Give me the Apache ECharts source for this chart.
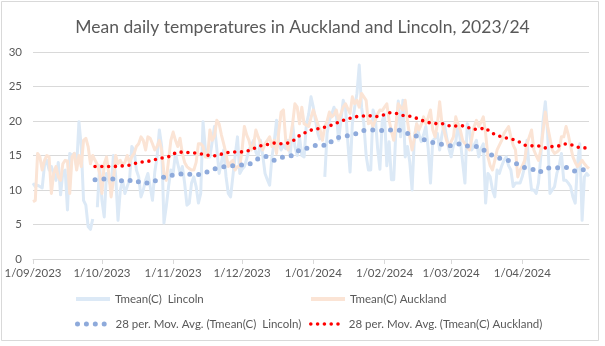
<!DOCTYPE html>
<html><head><meta charset="utf-8">
<script src="https://cdn.jsdelivr.net/npm/echarts@6/dist/echarts.min.js"></script>
<style>html,body{margin:0;padding:0;background:#fff}#c{width:605px;height:346px}</style>
</head><body><div id="c"></div>
<script>
// ---- data ----
const titleText = 'Mean daily temperatures in Auckland and Lincoln, 2023/24';
const startDate = '2023-09-01';
const dayCount = 243; // 1 Sep 2023 .. 30 Apr 2024
const seriesNames = ['Tmean(C)  Lincoln', 'Tmean(C) Auckland',
  '28 per. Mov. Avg. (Tmean(C)  Lincoln)', '28 per. Mov. Avg. (Tmean(C) Auckland)'];
const yTicks = [0, 5, 10, 15, 20, 25, 30];

const lincoln = [
  11, 10.5, 10.7, 10.5, 10.3, 13.6, 14.3, 12.9, 13.4, 12.4,
  11.4, 14, 9.3, 12.6, 12.9, 7.1, 15.3, 15, 15.3, 13.4,
  19.9, 16.3, 8.5, 7.8, 4.7, 4.3, 5.8, null, 7.5, 13.5,
  8.5, 6.1, 12.4, 11.4, 10.5, 15, 12, 5.6, 10, 11.4,
  9.5, 10.5, 11.4, 16.3, 15.8, 12.9, 11.9, 9, 10, 11.4,
  12.4, 10.5, 8.5, 12.6, 14.8, 18.7, 16.3, 5.2, 7.6, 10.5,
  12.9, 12.4, 15.3, 13.8, 12.4, 13.4, 11, 7.8, 8.1, 11,
  11.9, 10.5, 8.1, 9.5, 19.9, 16, 14.8, 14.8, 17, 19.2,
  16, 12.4, 14, 15.8, 12, 9.5, 9, 12, 15, 17.7,
  12.4, 13, 13.4, 14.5, 15.8, 16.5, 17.2, 15.5, 14.8, 17.2,
  15, 12.4, 11.5, 10.7, 14.8, 17, 20.1, 16.7, 15.8, 16.5,
  16, 17.2, 15, 19.6, 16.3, 15, 17.7, 15, 14.8, 19.6,
  21, 23.5, 22, 20, 18.2, 17.2, null, 11.9, 18.2, 20.1,
  21, 22, 21.1, 17.2, 20, 23, 22, 17, 12.6, 19.6,
  22, 24, 28.1, 22, 19.6, 15, 12.9, 12.9, 21.6, 20.5,
  16, 13, 20, 21, 13.5, 17, 11.5, 11.5, 19, 22.9,
  17.7, 23, 14.8, 16.3, 14, 10, 17.7, 19.6, 18, 17,
  18, 19.2, 16, 11, 17.2, 17.5, 18.2, 15.8, 18, 19.6,
  17.7, 16, 14.8, 16.5, 17, 19.6, 17.2, 14, 11, 19.6,
  18.7, 15.8, 16.5, 17.2, 14.8, 16, 16.7, 8.1, 12.4, 11.9,
  10, 9, 12.9, 12.4, 13.5, 14.3, 14.8, 13.5, 12.9, 10.5,
  11, 11, 11, 12, 13.4, 17.2, 13, 10, 10, 9.5,
  11, 14.8, 20, 22.8, 18.2, 9.5, 10, 10.5, 12.4, 13.5,
  15.3, 11.4, 11.4, 11, 10.5, 9, 8.1, 13.8, 16.7, 5.6,
  11.9, 12.4, 12
];
const auckland = [
  8.3, 8.5, 15.3, 14.8, 12.9, 14.3, 15, 14.8, 9.5, 12.4,
  13.4, 11.9, 11.4, 13.8, 14.3, 14.2, 9.5, 14.8, 15.3, 12.9,
  15, 13.4, 17.2, 17.5, 16.3, 13.8, 15, 14.3, 13.7, 12.4,
  9.5, 13.8, 14.8, 12.4, 9, 11.4, 15, 13.8, 14.3, 13.6,
  14, 15, 14, 14.8, 15.3, 16.3, 16.7, 17.7, 17.2, 15.8,
  17.7, 17.5, 16.7, 15.8, 16.3, 17.2, 15.8, 12.4, 11.4, 14.3,
  17.2, 18.4, 17.2, 16.3, 17.5, 15.3, 14, 13.4, 13.1, 12.9,
  12.9, 14, 16.7, 16.7, 16.3, 14.8, 14.8, 18.7, 17.2, 17.8,
  20.1, 19.6, 18, 16.7, 15.3, 13.4, 14, 14.3, 12.9, 13.4,
  13.4, 15.8, 19.2, 18, 17.2, 15.8, 16.5, 18.7, 17.7, 16.8,
  15.8, 16.7, 17.2, 17.7, 16.3, 17.2, 15.3, 18.5, 21.3, 21.6,
  17.2, 15.8, 17.5, 19.6, 22.5, 22, 19.6, 22, 19.6, 19.4,
  19.2, 20.5, 21.6, 20.6, 19.5, 18.7, 17.2, 19.2, 20, 21.3,
  20.6, 20.9, 21.6, 20.1, 21, 22, 22.5, 21.8, 21.1, 23.5,
  22.5, 23, 22, 24, 23.5, 23, 19.6, 20, 19.2, 20.1,
  21, 21.6, 21.5, 22, 22.5, 20.1, 18.5, 17.2, 19.6, 22.5,
  22, 21.6, 23, 20, 17.7, 15.8, 17.5, 19.6, 18.7, 19.5,
  20.6, 19.6, 20.5, 21.6, 18.7, 17.7, 19.5, 22.8, 19.6, 18.5,
  17.2, 16.3, 17, 17.7, 20.6, 19.5, 18.7, 17.2, 16.7, 16.2,
  15.8, 17.5, 19.2, 20.1, 19.2, 19.8, 20.6, 18.2, 14.8, 13.5,
  12.9, 14.3, 15.8, 16.5, 17.2, 18.2, 18.7, 19.2, 17.7, 16.5,
  15.8, 11.9, 12.9, 13.5, 14.3, 16.7, 17.7, 18.7, 15.8, 15,
  14.3, 15.8, 18.5, 21.3, 19.2, 17.5, 15.8, 15.3, 15.5, 15.8,
  17.7, 17.7, 19.2, 18, 16.3, 14.8, 14, 13.4, 13.8, 14.3,
  13.8, 13.4, 13.1
];
// 28-period moving-average trendlines (day offset from 1 Sep 2023, value)
const lincolnMaDay = [27, 32, 36, 40, 44, 47, 51, 55, 58, 62, 66, 70, 74, 78, 82, 86, 90, 94, 97, 101,
  105, 108, 113, 116, 120, 124, 128, 131, 135, 139, 143, 147, 151, 155, 159, 163, 167, 170, 174, 178,
  182, 186, 190, 194, 198, 201, 205, 209, 213, 217, 220, 224, 228, 232, 236, 239, 242];
const lincolnMa = [11.5, 11.6, 11.6, 11.2, 11.5, 11, 11, 11.6, 12, 12.2, 12.4, 12.2, 12.3, 13, 13.3, 13.5, 13.6, 13.7, 14.4, 14.9,
  14.3, 14.7, 15, 15.8, 16.1, 16.6, 16.4, 17.4, 17.8, 17.9, 18.6, 18.7, 18.6, 18.7, 18.7, 18.2, 17.8, 17.3, 16.9, 16.6,
  16.4, 16.7, 16.3, 16.3, 15.4, 14.8, 14.4, 14.1, 13.3, 13.1, 12.5, 13.2, 13.2, 13.3, 12.7, 12.9, 13];
const aucklandMaDay = [27, 30, 33, 35, 39, 42, 45, 48, 51, 54, 57, 60, 62, 65, 69, 72, 75, 78, 81, 84,
  87, 90, 93, 96, 99, 102, 105, 108, 111, 114, 116, 119, 122, 125, 128, 131, 134, 137, 140, 143,
  146, 149, 152, 155, 158, 161, 164, 167, 170, 173, 176, 179, 182, 185, 188, 191, 194, 197, 199, 202,
  205, 208, 211, 214, 217, 220, 223, 226, 229, 232, 235, 238, 242];
const aucklandMa = [13.4, 13.4, 13.4, 13.4, 13.5, 13.6, 13.9, 14.1, 14.2, 14.5, 14.7, 14.9, 15.4, 15.5, 15.4, 15.3, 15.1, 14.9, 15.1, 15.4,
  15.5, 15.5, 15.6, 16, 16.4, 16.6, 16.8, 16.7, 16.8, 17.3, 17.9, 18.4, 18.8, 18.9, 19.2, 19.5, 20, 20.3, 20.6, 20.7,
  20.8, 20.6, 20.8, 21.2, 21.1, 20.8, 20.7, 20.4, 20, 19.7, 19.6, 19.6, 19.2, 19.3, 19.3, 18.8, 18.8, 19, 18.4, 17.9,
  17.6, 17.4, 17.1, 16.5, 16.4, 16.4, 16.1, 16.3, 16.4, 16.7, 16.5, 16.1, 16.1];

// ---- build categories (dates) ----
const dates = [];
(function () {
  const p = startDate.split('-').map(Number);
  const t0 = Date.UTC(p[0], p[1] - 1, p[2]);
  for (let i = 0; i < dayCount; i++) {
    const d = new Date(t0 + i * 86400000);
    dates.push(d.getUTCFullYear() + '-' + String(d.getUTCMonth() + 1).padStart(2, '0') + '-' + String(d.getUTCDate()).padStart(2, '0'));
  }
})();
const isMonthStart = (v) => v.slice(8) === '01';
const fmtDate = (v) => { const p = v.split('-'); return Number(p[2]) + '/' + p[1] + '/' + p[0]; };

const FONT = 'Lato, "Liberation Sans", sans-serif';
const TXT = '#595959';
const GRID = '#d9d9d9';
const C_LIN = '#dce9f6', C_AKL = '#fbe4d5', C_LINMA = '#8eaadb', C_AKLMA = '#ff0000';

const chart = echarts.init(document.getElementById('c'), null, { renderer: 'canvas' });

function legendAt(name, left, top, w, ls) {
  return {
    data: [{ name: name, itemStyle: { opacity: 0 }, lineStyle: ls }],
    left: left, top: top, padding: 0, itemWidth: w, itemHeight: 10, itemGap: 0,
    selectedMode: false,
    textStyle: { color: TXT, fontFamily: FONT, fontSize: 11.5 }
  };
}

chart.setOption({
  animation: false,
  backgroundColor: '#fff',
  title: {
    text: titleText, left: 'center', top: 18, padding: 0,
    textStyle: { color: TXT, fontFamily: FONT, fontSize: 17.5, fontWeight: 'normal' }
  },
  graphic: [{
    type: 'rect', shape: { x: 1.5, y: 1.5, width: 597, height: 339 },
    style: { fill: 'none', stroke: GRID, lineWidth: 1 }, silent: true, z: -10
  }],
  legend: [
    legendAt(seriesNames[0], 74, 293, 34, { color: C_LIN, width: 4, type: 'solid' }),
    legendAt(seriesNames[1], 309, 293, 34, { color: C_AKL, width: 4, type: 'solid' }),
    legendAt(seriesNames[2], 75, 318, 33, { color: C_LINMA, width: 5, type: [0, 8.9], cap: 'round' }),
    legendAt(seriesNames[3], 309, 318, 33, { color: C_AKLMA, width: 3.6, type: [0, 6.8], cap: 'round' })
  ],
  grid: { left: 33, right: 16, top: 52, bottom: 87, containLabel: false },
  xAxis: {
    type: 'category', data: dates, boundaryGap: false,
    axisLine: { lineStyle: { color: GRID, width: 1 } },
    axisTick: { show: true, length: 5, interval: (i, v) => isMonthStart(v), lineStyle: { color: GRID } },
    axisLabel: { interval: (i, v) => isMonthStart(v), formatter: fmtDate, color: TXT, fontFamily: FONT, fontSize: 11.5, margin: 8 },
    splitLine: { show: false }
  },
  yAxis: {
    type: 'value', min: yTicks[0], max: yTicks[yTicks.length - 1], interval: yTicks[1] - yTicks[0],
    axisLine: { show: false }, axisTick: { show: false },
    axisLabel: { color: TXT, fontFamily: FONT, fontSize: 11.5, margin: 11 },
    splitLine: { lineStyle: { color: GRID, width: 1 } }
  },
  series: [
    {
      name: seriesNames[0], type: 'line', data: lincoln, symbol: 'none', showSymbol: false,
      connectNulls: false, color: C_LIN,
      lineStyle: { color: C_LIN, width: 3, join: 'round' }, emphasis: { disabled: true }, z: 2
    },
    {
      name: seriesNames[1], type: 'line', data: auckland, symbol: 'none', showSymbol: false,
      color: C_AKL,
      lineStyle: { color: C_AKL, width: 3, join: 'round' }, emphasis: { disabled: true }, z: 3
    },
    {
      name: seriesNames[2], type: 'line', data: lincolnMaDay.map((d, i) => [d, lincolnMa[i]]),
      symbol: 'none', showSymbol: false, color: C_LINMA,
      lineStyle: { color: C_LINMA, width: 5, type: [0, 8.9], cap: 'round' }, emphasis: { disabled: true }, z: 4
    },
    {
      name: seriesNames[3], type: 'line', data: aucklandMaDay.map((d, i) => [d, aucklandMa[i]]),
      symbol: 'none', showSymbol: false, color: C_AKLMA,
      lineStyle: { color: C_AKLMA, width: 3.6, type: [0, 6.8], cap: 'round' }, emphasis: { disabled: true }, z: 5
    }
  ]
});
</script>
</body></html>
